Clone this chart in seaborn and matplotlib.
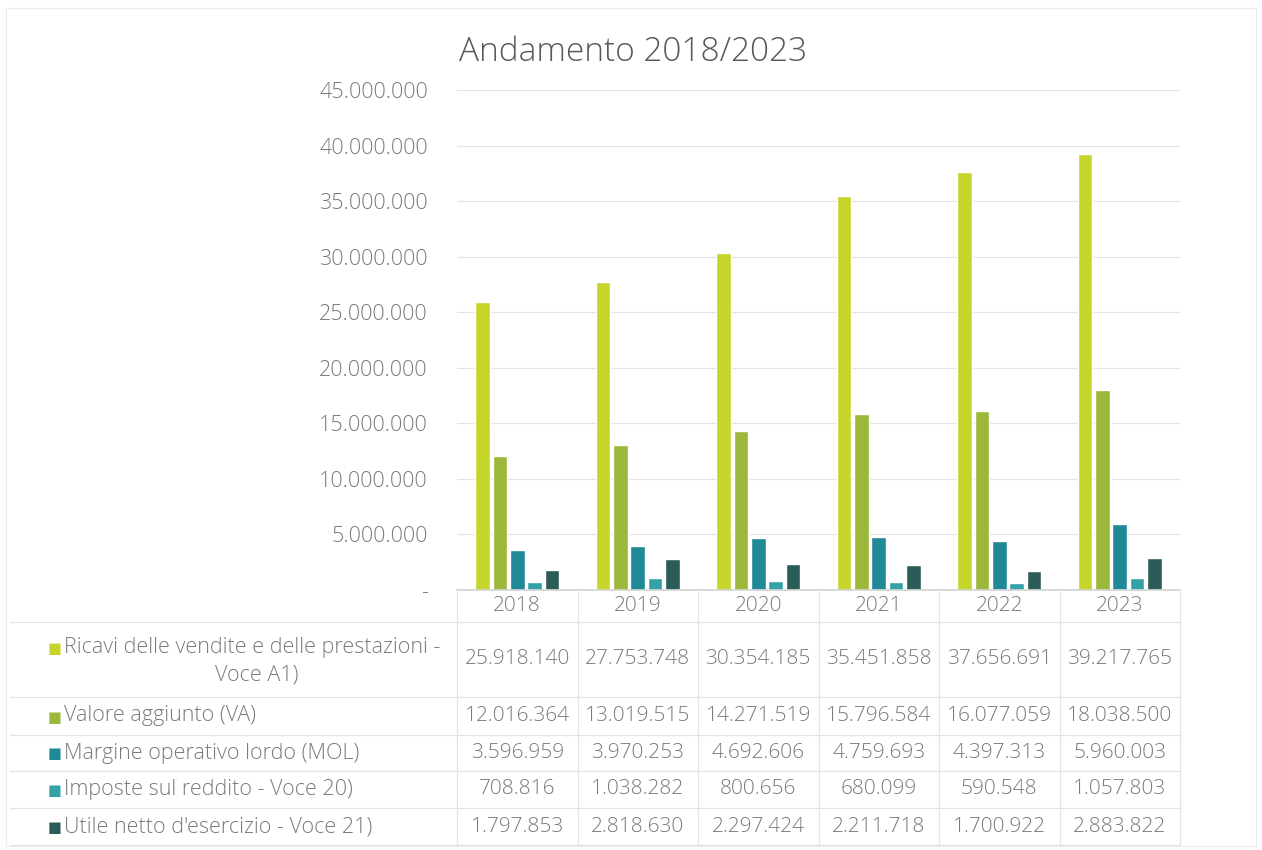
import numpy as np
import pandas as pd
import seaborn as sns
import matplotlib
matplotlib.use("Agg")
from matplotlib import pyplot as plt
from matplotlib.ticker import FuncFormatter, MultipleLocator
from matplotlib.transforms import blended_transform_factory

# dati
anni = ["2018", "2019", "2020", "2021", "2022", "2023"]
serie = [
    "Ricavi delle vendite e delle prestazioni - Voce A1)",
    "Valore aggiunto (VA)",
    "Margine operativo lordo (MOL)",
    "Imposte sul reddito - Voce 20)",
    "Utile netto d'esercizio - Voce 21)",
]
ricavi = [25918140, 27753748, 30354185, 35451858, 37656691, 39217765]
valore_aggiunto = [12016364, 13019515, 14271519, 15796584, 16077059, 18038500]
mol = [3596959, 3970253, 4692606, 4759693, 4397313, 5960003]
imposte = [708816, 1038282, 800656, 680099, 590548, 1057803]
utile = [1797853, 2818630, 2297424, 2211718, 1700922, 2883822]
colori = ["#c6d52b", "#9bb83a", "#1f8a96", "#34a1a6", "#2b5c58"]

valori = [ricavi, valore_aggiunto, mol, imposte, utile]
df = pd.DataFrame({
    "anno": anni * len(serie),
    "serie": np.repeat(serie, len(anni)),
    "valore": np.concatenate(valori),
})

sns.set_theme(style="white")
plt.rcParams["font.family"] = ["Open Sans", "DejaVu Sans"]
plt.rcParams["font.weight"] = "light"
grigio = "#7a7a7a"
linea = "#e3e3e3"
fs = 15

def fmt_it(v):
    return f"{int(round(v)):,}".replace(",", ".")

fig = plt.figure(figsize=(12.62, 8.5), dpi=100)
W, H = 1262, 850

# grafico a barre
ax = fig.add_axes([457 / W, 1 - 590 / H, 723 / W, 500 / H])
sns.barplot(data=df, x="anno", y="valore", hue="serie", palette=colori,
            width=0.72, gap=0.16, legend=False, ax=ax, saturation=1)
ax.set_ylim(0, 45_000_000)
ax.set_xlim(-0.5, 5.5)
ax.yaxis.set_major_locator(MultipleLocator(5_000_000))
ax.yaxis.set_major_formatter(FuncFormatter(lambda v, p: "-" if v == 0 else fmt_it(v)))
ax.tick_params(axis="y", labelsize=fs + 0.5, colors=grigio, length=0, pad=21)
ax.set_xticks([])
ax.set_xlabel("")
ax.set_ylabel("")
ax.grid(axis="y", color=linea, linewidth=0.9)
ax.set_axisbelow(True)
for s in ["top", "right", "left"]:
    ax.spines[s].set_visible(False)
ax.spines["bottom"].set_color("#d4d4d4")

fig.text(0.502, 1 - 52 / H, "Andamento 2018/2023", ha="center", va="center",
         fontsize=24, color="#595959")

# bordo del grafico
fig.add_artist(plt.Rectangle((6 / W, 4 / H), 1250 / W, 838 / H, transform=fig.transFigure,
                             fill=False, edgecolor="#ececec", linewidth=0.8))

# tabella dati
bordi = [590, 622, 697, 735, 771, 808, 845]
axt = fig.add_axes([457 / W, 1 - 845 / H, 723 / W, 255 / H], sharex=ax)
axt.set_ylim(845, 590)
axt.axis("off")
trans = blended_transform_factory(fig.transFigure, axt.transData)

for y in bordi[1:]:
    axt.plot([10 / W, 1180 / W], [y, y], transform=trans, color=linea,
             linewidth=0.9, clip_on=False)
for i in range(len(anni) + 1):
    axt.plot([i - 0.5, i - 0.5], [590, 845], color=linea, linewidth=0.9,
             clip_on=False)

for i, a in enumerate(anni):
    axt.text(i, (bordi[0] + bordi[1]) / 2, a, ha="center", va="center",
             fontsize=fs, color=grigio)

for r, (nome, vals, col) in enumerate(zip(serie, valori, colori)):
    yc = (bordi[r + 1] + bordi[r + 2]) / 2
    for i, v in enumerate(vals):
        axt.text(i, yc, fmt_it(v), ha="center", va="center",
                 fontsize=fs, color=grigio)
    yl = yc - 12 if r == 0 else yc
    axt.text(55 / W, yl + 1, "■", transform=trans, ha="center", va="center",
             fontsize=10.5, color=col, family=["DejaVu Sans"], fontweight="normal")
    if r == 0:
        axt.text(64 / W, yl, "Ricavi delle vendite e delle prestazioni -",
                 transform=trans, ha="left", va="center", fontsize=fs + 0.5, color=grigio)
        axt.text(257 / W, yc + 15, "Voce A1)", transform=trans, ha="center",
                 va="center", fontsize=fs + 0.5, color=grigio)
    else:
        axt.text(64 / W, yl, nome, transform=trans, ha="left", va="center",
                 fontsize=fs + 0.5, color=grigio)

fig.savefig("out.png", dpi=100, facecolor="white")
